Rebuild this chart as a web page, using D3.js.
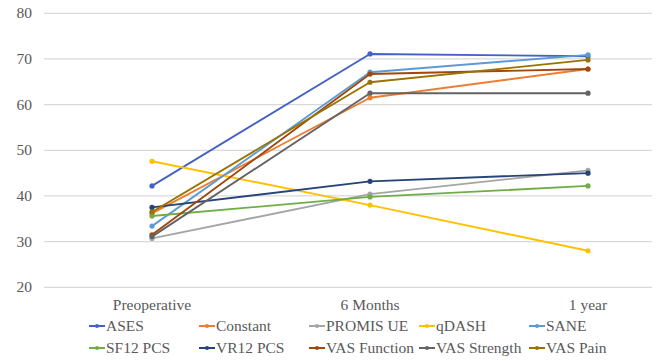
<!DOCTYPE html>
<html>
<head>
<meta charset="utf-8">
<script src="https://cdn.jsdelivr.net/npm/d3@7"></script>
<style>
  html, body { margin: 0; padding: 0; background: #fff; font-family: 'Liberation Serif'; }
  #wrap { position: relative; width: 658px; height: 361px; }
  svg { display: block; position: absolute; left: 0; top: 0; }
</style>
</head>
<body style="font-family:'Liberation Serif'">
<div id="wrap"><svg id="chart" width="658" height="361"></svg></div>
<script>
// ---- data ----
const categories = ["Preoperative", "6 Months", "1 year"];
const seriesNames = ["ASES", "Constant", "PROMIS UE", "qDASH", "SANE",
                     "SF12 PCS", "VR12 PCS", "VAS Function", "VAS Strength", "VAS Pain"];
const ases        = [42.2, 71.1, 70.6];
const constant    = [36.2, 61.5, 67.8];
const promisUE    = [30.7, 40.4, 45.6];
const qdash       = [47.6, 38.0, 28.0];
const sane        = [33.4, 67.1, 70.9];
const sf12        = [35.6, 39.8, 42.2];
const vr12        = [37.5, 43.2, 45.0];
const vasFunction = [31.5, 66.7, 67.8];
const vasStrength = [31.1, 62.5, 62.5];
const vasPain     = [36.5, 64.9, 69.8];
const yTicks = [20, 30, 40, 50, 60, 70, 80];
const colors = ["#4462C4", "#ED7D31", "#A5A5A5", "#FFC000", "#5B9BD5",
                "#70AD47", "#264478", "#9E480E", "#636363", "#997300"];

const seriesValues = [ases, constant, promisUE, qdash, sane, sf12, vr12, vasFunction, vasStrength, vasPain];
const series = seriesNames.map((n, i) => ({ name: n, values: seriesValues[i], color: colors[i] }));

// ---- layout ----
const svg = d3.select("#chart");
const wrap = d3.select("#wrap");
const BASE = 13; // px from box top to baseline at 15.5px
function label(x, baseline, txt, anchor) {
  const d = wrap.append("div").text(txt)
    .attr("style", "position:absolute;white-space:nowrap;font-family:'Liberation Serif';font-size:15.5px;line-height:15.5px;color:#595959;" +
      "left:" + x + "px;top:" + (baseline - BASE) + "px;" +
      (anchor === "end" ? "transform:translateX(-100%);" : anchor === "middle" ? "transform:translateX(-50%);" : ""));
  return d;
}
const gridLeft = 44, gridRight = 652;
const y = d3.scaleLinear().domain([20, 80]).range([287.3, 13.3]);
const x = d3.scalePoint().domain(categories).range([152, 588]);

// gridlines
svg.append("g").selectAll("line").data(yTicks).join("line")
  .attr("x1", gridLeft).attr("x2", gridRight)
  .attr("y1", d => y(d)).attr("y2", d => y(d))
  .attr("stroke", "#d9d9d9").attr("stroke-width", 1.3);

// y labels
yTicks.forEach(t => label(32, y(t) + 5, String(t), "end"));
// x labels
categories.forEach(c => label(x(c), 309.5, c, "middle"));

// lines
const line = d3.line().x((d, i) => x(categories[i])).y(d => y(d));
const sg = svg.append("g").selectAll("g").data(series).join("g");
sg.append("path")
  .attr("d", d => line(d.values))
  .attr("fill", "none").attr("stroke", d => d.color).attr("stroke-width", 1.9)
  .attr("stroke-linejoin", "round");
sg.selectAll("circle").data(d => d.values.map((v, i) => ({ v, i, c: d.color }))).join("circle")
  .attr("cx", d => x(categories[d.i])).attr("cy", d => y(d.v))
  .attr("r", 2.6).attr("fill", d => d.c);

// legend
const legendCols = 5, colStart = 89, colStep = 110, rowY = [326, 348];
const leg = svg.append("g");
let prevEnd = 0;
series.forEach((s, i) => {
  const row = Math.floor(i / legendCols), col = i % legendCols;
  if (col === 0) prevEnd = 0;
  const mx = Math.max(colStart + col * colStep, prevEnd);
  leg.append("line").attr("x1", mx).attr("x2", mx + 16)
    .attr("y1", rowY[row]).attr("y2", rowY[row])
    .attr("stroke", s.color).attr("stroke-width", 2);
  leg.append("circle").attr("cx", mx + 8).attr("cy", rowY[row]).attr("r", 2).attr("fill", s.color);
  const t = label(mx + 17, rowY[row] + 5, s.name);
  prevEnd = mx + 17 + t.node().getBoundingClientRect().width + 1;
});
</script>
</body>
</html>
